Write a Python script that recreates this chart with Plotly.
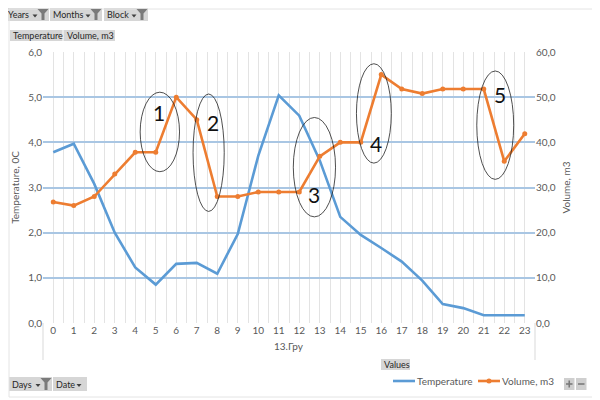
import plotly.graph_objects as go

# %% data
hours = list(range(24))
temperature = [3.78, 3.97, 3.08, 2.0, 1.23, 0.85, 1.31, 1.33, 1.09, 1.97, 3.7, 5.04,
               4.59, 3.6, 2.35, 1.95, 1.66, 1.36, 0.94, 0.42, 0.33, 0.17, 0.17, 0.17]
volume = [26.8, 26.0, 28.0, 33.0, 37.8, 37.8, 50.0, 45.0, 28.0, 28.0, 29.0, 29.0,
          29.0, 36.9, 40.0, 40.0, 55.0, 51.8, 50.8, 51.8, 51.8, 51.8, 35.8, 41.9]
day_label = "13.Гру"
series_names = ["Temperature", "Volume, m3"]

# hand drawn callouts (label, centre on temperature axis, half width/height, where the digit sits)
callout_labels = ["1", "2", "3", "4", "5"]
callout_x = [5.2, 7.58, 12.74, 15.64, 21.56]
callout_y = [4.23, 3.77, 3.45, 4.64, 4.38]
callout_w = [0.96, 0.76, 1.03, 0.85, 0.9]
callout_h = [0.88, 1.3, 1.1, 1.1, 1.2]
label_x = [5.17, 7.8, 12.74, 15.72, 21.78]
label_y = [4.65, 4.43, 2.84, 3.97, 5.07]

BLUE = "#5b9bd5"
ORANGE = "#ed7d31"
GREY = "#595959"
FONT = "Lato, Open Sans, sans-serif"

# plot area in window pixels; the page body has an 8px margin so the figure is 592x392
OFF = 8
L, R, T, B = 43, 535, 52, 323


def px(x, y):
    return (x - L) / (R - L), (B - y) / (B - T)


fig = go.Figure()

fig.add_trace(go.Scatter(
    x=hours, y=temperature, name=series_names[0], mode="lines",
    line=dict(color=BLUE, width=2.6),
))
fig.add_trace(go.Scatter(
    x=hours, y=volume, name=series_names[1], mode="lines+markers", yaxis="y2",
    line=dict(color=ORANGE, width=2.6), marker=dict(color=ORANGE, size=5),
))

shapes = []
annotations = []

# ellipses + numbers
for i, lab in enumerate(callout_labels):
    shapes.append(dict(
        type="circle", xref="x", yref="y",
        x0=callout_x[i] - callout_w[i], x1=callout_x[i] + callout_w[i],
        y0=callout_y[i] - callout_h[i], y1=callout_y[i] + callout_h[i],
        line=dict(color="#222222", width=0.8),
    ))
    annotations.append(dict(
        x=label_x[i], y=label_y[i], xref="x", yref="y", text=lab, showarrow=False,
        font=dict(size=21, color="#111111", family=FONT),
    ))

# axis side lines that drop below the plot
for xx in (0, 1):
    shapes.append(dict(type="line", xref="paper", yref="paper", x0=xx, x1=xx,
                       y0=0, y1=px(0, 360)[1], line=dict(color="#d9d9d9", width=1)))


def button(x0, x1, y0, y1, text, funnel=False, arrow=False):
    a = px(x0, y0)
    b = px(x1, y1)
    shapes.append(dict(type="rect", xref="paper", yref="paper", x0=a[0], x1=b[0],
                       y0=b[1], y1=a[1], fillcolor="#d6d6d6", line=dict(width=0),
                       layer="below"))
    annotations.append(dict(x=px(x0 + 2, 0)[0], y=px(0, (y0 + y1) / 2)[1],
                            xref="paper", yref="paper", xanchor="left", yanchor="middle",
                            text=text, showarrow=False, borderpad=0,
                            font=dict(size=9, color="#262626", family=FONT)))
    if arrow or funnel:
        # little dropdown triangle
        ax = x1 - (14 if funnel else 8)
        ay = (y0 + y1) / 2 + 1.5
        p1, p2, p3 = px(ax - 2.5, ay - 1.5), px(ax + 2.5, ay - 1.5), px(ax, ay + 1.5)
        shapes.append(dict(type="path", xref="paper", yref="paper",
                           path=f"M {p1[0]},{p1[1]} L {p2[0]},{p2[1]} L {p3[0]},{p3[1]} Z",
                           fillcolor="#404040", line=dict(width=0)))
    if funnel:
        fx = x1 - 6
        q = [px(fx - 5.5, y0 + 1), px(fx + 5.5, y0 + 1), px(fx + 1.5, y0 + 5.5),
             px(fx + 1.5, y1 - 1), px(fx - 1.5, y1 - 1), px(fx - 1.5, y0 + 5.5)]
        path = "M " + " L ".join(f"{p[0]},{p[1]}" for p in q) + " Z"
        shapes.append(dict(type="path", xref="paper", yref="paper", path=path,
                           fillcolor="#7a7a7a", line=dict(width=0)))


button(5, 49, 8, 21, "Years", funnel=True)
button(50, 102, 8, 21, "Months", funnel=True)
button(104, 148, 8, 21, "Block", funnel=True)
button(10, 62.5, 30, 41, "Temperature")
button(63.5, 115, 30, 41, "Volume, m3")
button(9, 52, 377, 391, "Days", funnel=True)
button(53, 87, 377, 391, "Date", arrow=True)
button(381, 410, 359, 370, "Values")

# + / - zoom buttons, drawn as small glyphs on grey squares
for x0, minus in ((564, False), (576, True)):
    a, b = px(x0, 378), px(x0 + 10.5, 390)
    shapes.append(dict(type="rect", xref="paper", yref="paper", x0=a[0], x1=b[0],
                       y0=b[1], y1=a[1], fillcolor="#cfcfcf", line=dict(width=0)))
    h0, h1 = px(x0 + 2, 384), px(x0 + 8.5, 384)
    shapes.append(dict(type="line", xref="paper", yref="paper", x0=h0[0], x1=h1[0],
                       y0=h0[1], y1=h1[1], line=dict(color="#7a7a7a", width=1.6)))
    if not minus:
        v0, v1 = px(x0 + 5.25, 380.5), px(x0 + 5.25, 387.5)
        shapes.append(dict(type="line", xref="paper", yref="paper", x0=v0[0], x1=v1[0],
                           y0=v0[1], y1=v1[1], line=dict(color="#7a7a7a", width=1.6)))

# legend drawn the Excel way: short line sample then the name
legend_x = [393, 478]
for i, name in enumerate(series_names):
    col = BLUE if i == 0 else ORANGE
    a, b = px(legend_x[i], 381), px(legend_x[i] + 22, 381)
    shapes.append(dict(type="line", xref="paper", yref="paper", x0=a[0], x1=b[0],
                       y0=a[1], y1=b[1], line=dict(color=col, width=2.6)))
    if i == 1:
        m0, m1 = px(legend_x[i] + 8.5, 378.5), px(legend_x[i] + 13.5, 383.5)
        shapes.append(dict(type="circle", xref="paper", yref="paper", x0=m0[0], x1=m1[0],
                           y0=m1[1], y1=m0[1], fillcolor=col, line=dict(width=0)))
    annotations.append(dict(x=px(legend_x[i] + 23, 0)[0], y=a[1], xref="paper",
                            yref="paper", xanchor="left", yanchor="middle", text=name,
                            showarrow=False, borderpad=0,
                            font=dict(size=10, color=GREY, family=FONT)))

# second level of the category axis
annotations.append(dict(x=0.5, y=px(0, 354)[1], xref="paper", yref="paper", text=day_label,
                        showarrow=False, font=dict(size=10, color=GREY, family=FONT)))

# faint worksheet frame
shapes.append(dict(type="rect", xref="paper", yref="paper",
                   x0=px(9, 0)[0], x1=px(597, 0)[0], y0=px(0, 397)[1], y1=px(0, 9)[1],
                   line=dict(color="#e4e4e4", width=1), layer="below"))

fig.update_layout(
    width=600 - OFF, height=400 - OFF,
    margin=dict(l=L - OFF, r=600 - R, t=T - OFF, b=400 - B),
    paper_bgcolor="white", plot_bgcolor="white",
    separators=", ",
    font=dict(family=FONT, size=10, color=GREY),
    showlegend=False,
    shapes=shapes,
    annotations=annotations,
    xaxis=dict(
        range=[-0.5, 23.5], tickmode="linear", tick0=0, dtick=1, automargin=False,
        showgrid=True, gridcolor="#e3e3e3", gridwidth=1,
        minor=dict(dtick=0.5, tick0=-0.5, showgrid=True, gridcolor="#e3e3e3", gridwidth=1),
        zeroline=False, showline=False, ticks="",
        tickfont=dict(size=10, color=GREY),
    ),
    yaxis=dict(
        title=dict(text="Temperature, 0C", font=dict(size=10, color=GREY), standoff=6),
        range=[0, 6], dtick=1, tickformat=".1f", automargin=False,
        showgrid=True, gridcolor="#a9c6e3", gridwidth=1.5,
        zeroline=False, showline=False, ticks="",
        tickfont=dict(size=10, color=GREY),
    ),
    yaxis2=dict(
        title=dict(text="Volume, m3", font=dict(size=10, color=GREY), standoff=8),
        range=[0, 60], dtick=10, tickformat=".1f", overlaying="y", side="right",
        automargin=False,
        showgrid=False, zeroline=False, showline=False, ticks="",
        tickfont=dict(size=10, color=GREY),
    ),
)

fig.write_html("out.html")
